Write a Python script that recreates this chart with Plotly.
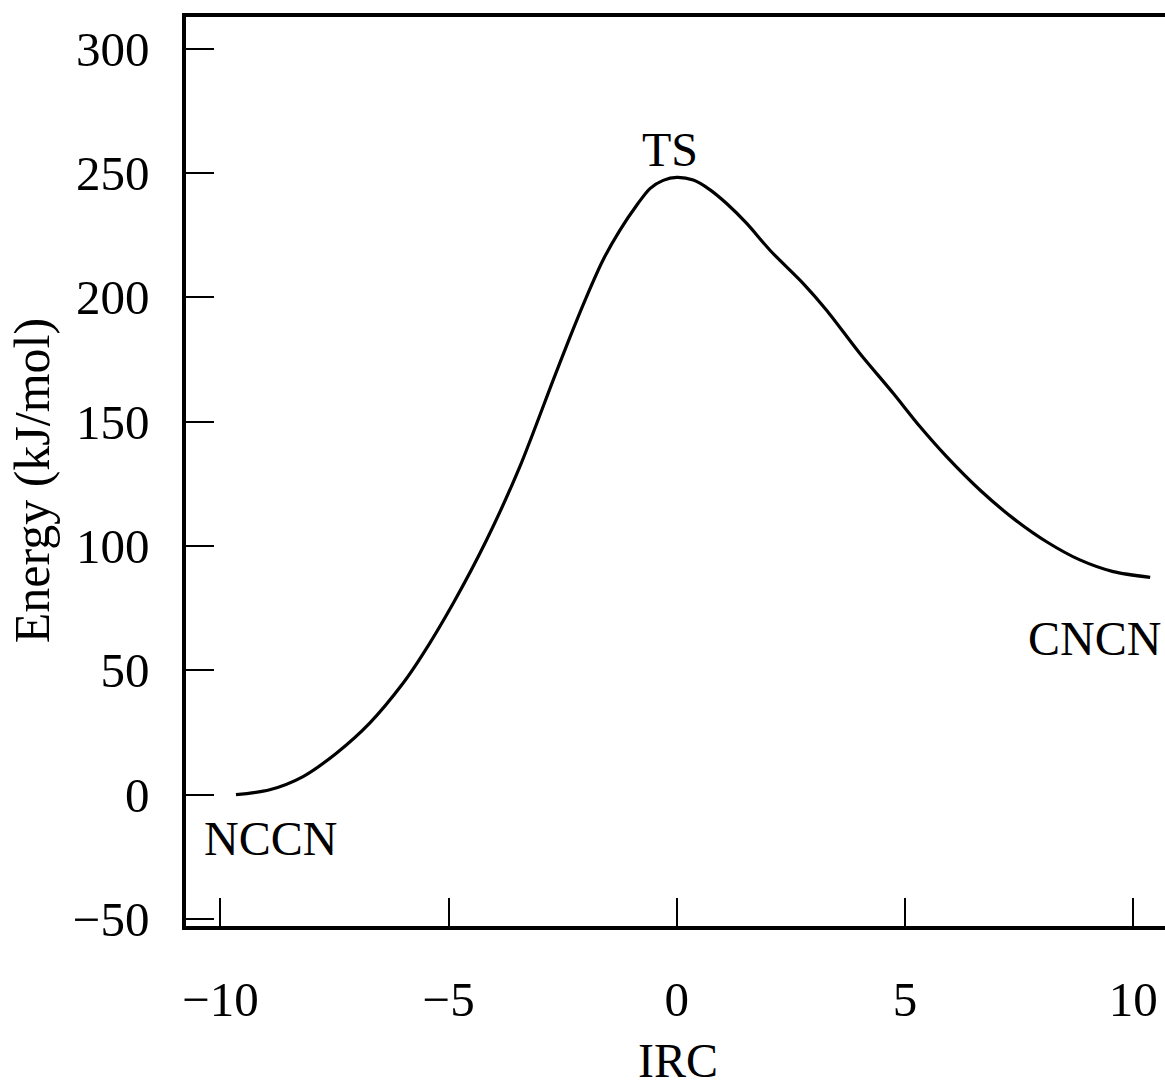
import plotly.graph_objects as go

# Intrinsic reaction coordinate profile for NCCN -> CNCN isomerisation
irc = [-9.66, -8.92, -8.19, -7.46, -6.73, -6.00, -5.60, -4.90, -4.17, -3.44,
       -2.71, -2.34, -1.98, -1.62, -1.25, -0.88, -0.59, -0.30, 0.00, 0.36,
       0.72, 1.09, 1.53, 2.04, 2.77, 3.28, 4.01, 4.74, 5.33, 5.91,
       6.64, 7.37, 8.10, 8.83, 9.56, 10.37]
energy = [0.0, 2.0, 7.3, 16.7, 28.8, 44.8, 55.5, 77.0, 102.4, 131.9,
          166.7, 184.1, 200.2, 214.9, 226.9, 237.0, 243.7, 247.0, 248.2, 247.1,
          243.3, 237.7, 229.7, 218.9, 205.5, 194.8, 177.4, 161.4, 147.9, 135.9,
          122.5, 111.1, 101.7, 94.4, 89.7, 87.4]

labels = ["NCCN", "TS", "CNCN"]
label_x = [-8.90, -0.15, 9.14]
label_y = [-17.7, 259.5, 63.0]

x_ticks = [-10, -5, 0, 5, 10]
y_ticks = [-50, 0, 50, 100, 150, 200, 250, 300]

FONT = "Liberation Serif, Times New Roman, serif"
SIZE = 48

fig = go.Figure()
fig.add_trace(go.Scatter(
    x=irc, y=energy, mode="lines",
    line=dict(color="black", width=3.2, shape="spline", smoothing=0.8),
    hoverinfo="skip", showlegend=False,
))

for t, lx, ly in zip(labels, label_x, label_y):
    fig.add_annotation(x=lx, y=ly, text=t, showarrow=False,
                       xanchor="center", yanchor="middle",
                       font=dict(family=FONT, size=SIZE, color="black"))

# Axis titles placed as paper-anchored annotations
fig.add_annotation(xref="paper", yref="paper", x=0.503, y=-0.148,
                   text="IRC", showarrow=False,
                   xanchor="center", yanchor="middle",
                   font=dict(family=FONT, size=48, color="black"))
fig.add_annotation(xref="paper", yref="paper", x=-0.157, y=0.4895,
                   text="Energy (kJ/mol)", textangle=-90, showarrow=False,
                   xanchor="center", yanchor="middle",
                   font=dict(family=FONT, size=50, color="black"))

fig.update_layout(
    width=1165, height=1091,
    margin=dict(l=186, r=0, t=17, b=165),
    paper_bgcolor="white", plot_bgcolor="white",
    font=dict(family=FONT, size=SIZE, color="black"),
    xaxis=dict(
        range=[-10.755, 10.695], tickvals=x_ticks, automargin=False,
        ticks="inside", ticklen=28, tickwidth=1.5, tickcolor="black",
        showline=True, linewidth=3.5, linecolor="black", mirror=True,
        showgrid=False, zeroline=False, ticklabelstandoff=27,
        tickfont=dict(family=FONT, size=49),
    ),
    yaxis=dict(
        range=[-52.79, 312.68], tickvals=y_ticks, automargin=False,
        ticks="inside", ticklen=28, tickwidth=1.5, tickcolor="black",
        showline=True, linewidth=3.5, linecolor="black", mirror=False,
        showgrid=False, zeroline=False, ticklabelstandoff=23,
        tickfont=dict(family=FONT, size=49),
    ),
)

fig.write_html("out.html")
